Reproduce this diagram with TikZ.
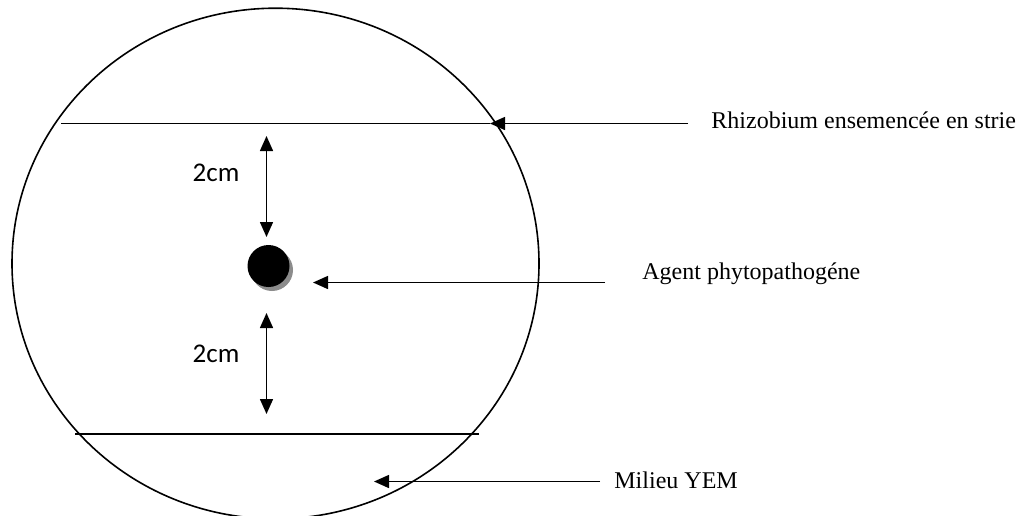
\documentclass[tikz,border=0pt]{standalone}
\usepackage{fontspec}
\setmainfont{Liberation Serif}
\newfontfamily\dimfont{Carlito}
\usetikzlibrary{arrows.meta,positioning,calc}

\begin{document}
\begin{tikzpicture}[
    x=0.5pt, y=-0.5pt,
    >={Triangle[length=7.5pt,width=6.5pt]},
    dish/.style={line width=0.8pt, draw=black},
    strie/.style={line width=0.9pt, draw=black},
    arrow/.style={->, line width=0.75pt, draw=black},
    dimarrow/.style={<->, line width=0.75pt, draw=black},
    label/.style={font=\fontsize{12pt}{14pt}\selectfont, anchor=base west, inner sep=0pt},
    dimlabel/.style={font=\dimfont\fontsize{13.5pt}{15pt}\selectfont, inner sep=0pt},
    spot/.style={circle, fill=black, minimum size=21pt, inner sep=0pt},
    spotshadow/.style={circle, fill=black!45, minimum size=21pt, inner sep=0pt}
]
\useasboundingbox (0,0) rectangle (1020,515);
% boite de Petri
\draw[dish] (275.5,263.5) ellipse [x radius=131.75pt, y radius=127.65pt];
% stries de Rhizobium
\coordinate (s1a) at (61,123.5);
\coordinate (s1b) at (490,123.5);
\coordinate (s2a) at (75,434);
\coordinate (s2b) at (479,434);
\draw[strie] (s1a) -- (s1b);
\draw[strie] (s2a) -- (s2b);
% agent phytopathogene
\node[spotshadow] (spotsh) at (272,270) {};
\node[spot] (spot) at (268.5,266) {};
% distances
\coordinate (d1a) at (266.5,136);
\coordinate (d1b) at (266.5,237);
\coordinate (d2a) at (266.5,313);
\coordinate (d2b) at (266.5,414);
\draw[dimarrow] (d1a) -- (d1b);
\draw[dimarrow] (d2a) -- (d2b);
\node[dimlabel] (dim1) at (216,173) {2cm};
\node[dimlabel] (dim2) at (216,354) {2cm};
% legendes
\node[label] (rhizo) at (711,128) {Rhizobium ensemencée en strie};
\node[label] (agent) at (642,279) {Agent phytopathogéne};
\node[label] (milieu) at (614,488) {Milieu YEM};
\coordinate (rhizotail) at (688,123.5);
\coordinate (agenttail) at (605,282.5);
\coordinate (agenttip) at (313,282.5);
\coordinate (milieutail) at (600,481.5);
\coordinate (milieutip) at (374,481.5);
\draw[arrow] (rhizotail) -- (s1b);
\draw[arrow] (agenttail) -- (agenttip);
\draw[arrow] (milieutail) -- (milieutip);
\end{tikzpicture}
\end{document}
